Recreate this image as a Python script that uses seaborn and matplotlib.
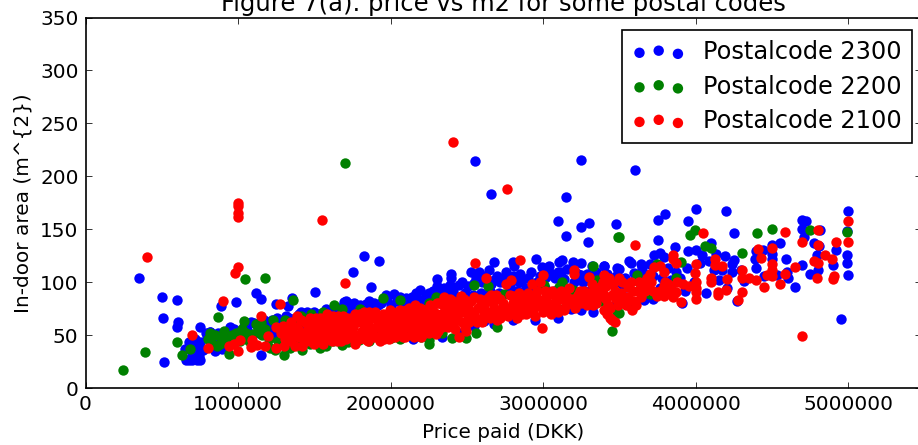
import matplotlib
matplotlib.use('Agg')
import pandas as pd
import matplotlib.pyplot as plt
import seaborn as sns

# (price in 1000 DKK, in-door area in m2)
postal_2300 = [
    (352, 104), (503, 86), (507, 66), (601, 83), (605, 62), (601, 58), (516, 25), (752, 58), (984, 81), (890, 77),
    (815, 53), (1119, 90), (1152, 84), (1753, 110), (1502, 91), (1351, 85), (1327, 77), (1250, 79), (1152, 31),
    (660, 26), (680, 26), (700, 26), (730, 26), (750, 26), (655, 37), (677, 43), (721, 33), (732, 37), (754, 43),
    (700, 30), (745, 30), (690, 40), (798, 47), (819, 53), (852, 35), (896, 37), (907, 53), (973, 56), (1038, 59),
    (1104, 61), (1169, 64), (1224, 64), (1333, 66), (1399, 70), (1453, 72), (1497, 72), (1574, 75), (1650, 70),
    (1705, 82), (1759, 80), (860, 45), (930, 50), (1000, 52), (1060, 55), (1130, 58), (1200, 58), (1270, 62),
    (1300, 60), (1370, 65), (1420, 66), (1480, 68), (1530, 70), (1600, 72), (1680, 74), (1730, 76), (1790, 76),
    (1240, 50), (1440, 55), (1550, 60), (1650, 62), (1694, 81), (1748, 79), (1836, 79), (1891, 80),
    (1829, 125), (1926, 120), (1875, 95), (1967, 88), (2022, 89), (2103, 85), (2192, 93), (2170, 90), (2251, 90),
    (2302, 103), (2302, 96), (2398, 108), (2398, 104), (2393, 97), (2452, 97), (2525, 110), (2579, 110), (2645, 111),
    (2678, 119), (2700, 106), (2754, 110), (2802, 119), (2809, 115), (2852, 108), (2951, 122), (2995, 114), (3038, 115),
    (3104, 119), (3126, 121), (3097, 110), (3196, 119), (3250, 118), (3202, 111), (3250, 107), (3322, 115), (3399, 115),
    (3486, 113), (3152, 144), (3250, 152), (3294, 138), (3100, 158), (3150, 180), (2551, 214), (2660, 183), (3250, 215),
    (3600, 206), (3300, 156), (3475, 155), (3751, 159), (3799, 164), (3952, 158), (4000, 169), (4199, 167), (4251, 146),
    (3751, 140), (3867, 133), (3727, 126), (3770, 128), (3792, 124), (3952, 129), (4000, 130), (4098, 137), (4044, 126),
    (4131, 127), (4192, 125), (4251, 121), (4240, 117), (4295, 111), (4393, 113), (4393, 129), (4444, 130), (4387, 122),
    (4498, 135), (4498, 127), (4498, 122), (4551, 137), (4595, 122), (4597, 110), (4606, 104), (4651, 95), (4695, 159),
    (4726, 158), (4700, 150), (4710, 143), (4813, 149), (4776, 137), (4809, 134), (4798, 126), (4802, 111), (4750, 108),
    (4695, 116), (4901, 116), (4920, 130), (5000, 167), (4990, 148), (4995, 126), (4995, 118), (5000, 107), (4951, 65),
    (4070, 90), (3770, 94), (3930, 92), (3908, 80), (4273, 82), (4317, 101), (4153, 102), (4208, 94), (4448, 106),
    (4536, 107), (3401, 115), (3497, 112), (3563, 120), (3574, 118), (3639, 117), (3650, 113), (3698, 117), (3661, 83),
    (3596, 109), (3541, 86), (3945, 113), (3869, 110), (3989, 100), (4120, 111), (4175, 111), (4240, 110), (4030, 118),
    (4090, 120), (3820, 113), (3700, 108), (2612, 63), (2546, 59), (2339, 48), (2852, 91), (3027, 88), (3180, 75),
    (3246, 74), (2546, 99), (2600, 100), (2660, 98), (2720, 100), (2780, 96), (2840, 100), (2900, 104), (2960, 100),
    (3020, 105), (3080, 104), (3140, 103), (3200, 100), (3260, 100), (3330, 104), (3380, 100), (3440, 100), (3520, 98),
    (1800, 78), (1860, 82), (1920, 78), (1980, 84), (2040, 82), (2090, 78), (2140, 86), (2200, 82), (2260, 84),
    (2320, 88), (2370, 90), (2430, 86), (2490, 90), (2540, 88), (2590, 90), (2650, 92), (2710, 90), (2770, 90),
    (2830, 92), (2890, 94), (2950, 92), (3010, 94), (3070, 92), (3130, 94), (3190, 90), (3300, 92), (3360, 92),
    # solid part of the band
    (720, 46), (770, 36), (790, 52), (835, 40), (870, 52), (915, 44), (950, 58), (1015, 48), (1075, 50), (1085, 62),
    (1140, 52), (1190, 62), (1215, 54), (1255, 66), (1285, 58), (1315, 68), (1350, 60), (1385, 64), (1415, 72), (1460, 64),
    (1510, 64), (1560, 68), (1620, 66), (1660, 76), (1710, 72), (1770, 72), (1810, 74), (1880, 74), (1940, 80), (2000, 78),
    (2060, 86), (2120, 80), (2180, 84), (2230, 88), (2280, 92), (2350, 94), (2410, 92), (2470, 100), (2510, 96), (2560, 104),
    (2620, 106), (2680, 102), (2740, 104), (2800, 106), (2860, 102), (2920, 110), (2980, 106), (3040, 110), (3120, 110),
    (3160, 112), (3230, 108), (3290, 108), (3350, 110), (3420, 108), (3480, 106), (3540, 104), (3600, 102), (3660, 108),
    (3720, 106), (3780, 104), (3840, 102), (3900, 104), (3720, 84), (3640, 90), (3560, 78), (3480, 80), (3420, 76),
    (3330, 72), (3100, 66), (2950, 64), (2800, 64), (2680, 60), (2450, 52), (2150, 46),
]

postal_2200 = [
    (245, 17), (387, 34), (601, 43), (632, 31), (682, 37), (868, 67), (1047, 103), (1176, 104), (940, 32), (1300, 31),
    (1360, 83), (1700, 213), (1627, 78), (800, 46), (830, 42), (860, 40), (890, 48), (920, 45), (950, 43), (985, 52),
    (1000, 48), (1040, 63), (1070, 44), (1100, 51), (1130, 55), (1160, 50), (1150, 62), (1210, 38), (1240, 36),
    (1270, 57), (1310, 64), (1340, 38), (1390, 60), (1420, 36), (1470, 42), (1500, 62), (1540, 38), (1580, 40),
    (1683, 75), (1799, 75), (1952, 85), (2061, 83), (2295, 86), (2251, 80), (2546, 97), (2640, 96), (2743, 89),
    (2951, 83), (3005, 97), (3104, 95), (3126, 100), (3196, 93), (3327, 115), (3355, 102), (3349, 80), (3491, 143),
    (3486, 71), (3449, 54), (2695, 58), (2498, 47), (2400, 47), (2251, 42), (2251, 45), (2273, 56), (2065, 46),
    (1930, 47), (1858, 44), (1792, 45), (1683, 41), (2000, 47), (3104, 75), (3497, 143), (3961, 145), (3996, 149),
    (4061, 134), (4103, 132), (4302, 128), (4400, 146), (4501, 150), (4750, 149), (4995, 147), (3497, 71), (3700, 89),
    (3399, 81), (3902, 119), (3749, 117), (3617, 107), (3628, 93), (3869, 104), (1620, 44), (1720, 43), (1900, 52),
    (2130, 50), (2200, 48), (2340, 52), (2560, 52), (815, 52), (850, 50), (880, 42), (910, 54), (960, 50), (1010, 44),
    (1025, 56), (1055, 52), (1085, 46), (1115, 60), (1180, 56), (1200, 46), (1230, 64), (1260, 44), (1290, 50), (1330, 58),
    (1375, 44), (1410, 68), (1440, 48), (1480, 70), (1520, 52), (1560, 72), (1600, 50), (1650, 46), (1750, 48),
]

postal_2100 = [
    (402, 124), (697, 50), (900, 82), (1001, 114), (977, 109), (1000, 175), (1000, 172), (1000, 165), (1000, 162),
    (1550, 159), (2411, 232), (2765, 188), (1700, 99), (1272, 79), (1150, 68), (802, 38), (940, 40), (973, 42),
    (1016, 45), (1001, 35), (1082, 39), (1093, 45), (1126, 41), (1180, 40), (1196, 49), (1250, 58), (1296, 59),
    (1246, 38), (1300, 40), (1279, 52), (1333, 52), (1388, 68), (1350, 44), (1380, 58), (1400, 48), (1420, 40),
    (1440, 62), (1450, 54), (1470, 44), (1490, 56), (1510, 66), (1520, 48), (1540, 60), (1560, 42), (1570, 54),
    (1590, 64), (1600, 48), (1620, 68), (1630, 56), (1650, 44), (1660, 62), (1680, 52), (1690, 68), (1710, 46),
    (1720, 58), (1740, 66), (1750, 52), (1770, 42), (1780, 62), (1800, 70), (1810, 54), (1830, 46), (1840, 64),
    (1860, 72), (1870, 56), (1890, 48), (1900, 66), (1920, 58), (1930, 44), (1950, 70), (1960, 52), (1980, 62),
    (1990, 46), (2010, 68), (2020, 56), (2040, 72), (2050, 50), (2070, 64), (2080, 48), (2100, 74), (2110, 58),
    (2130, 66), (2140, 52), (2160, 78), (2170, 60), (2190, 70), (2197, 48), (2210, 56), (2220, 74), (2240, 64),
    (2250, 52), (2270, 70), (2280, 58), (2295, 51), (2300, 66), (2320, 80), (2340, 58), (2350, 86), (2360, 66),
    (2380, 76), (2400, 60), (2410, 82), (2430, 70), (2448, 48), (2460, 87), (2470, 62), (2490, 76), (2498, 54),
    (2510, 68), (2530, 82), (2551, 118), (2550, 72), (2570, 62), (2590, 80), (2610, 70), (2623, 104), (2630, 84),
    (2650, 66), (2660, 88), (2680, 76), (2700, 64), (2720, 84), (2730, 72), (2760, 98), (2770, 68), (2790, 102),
    (2800, 80), (2810, 87), (2830, 66), (2852, 121), (2850, 76), (2870, 84), (2890, 70), (2900, 90), (2920, 80),
    (2930, 98), (2950, 68), (2970, 84), (2980, 100), (2995, 57), (3000, 107), (3000, 72), (3010, 92), (3030, 80),
    (3050, 70), (3070, 88), (3090, 76), (3110, 84), (3120, 92), (3140, 74), (3160, 86), (3180, 80), (3202, 111),
    (3202, 108), (3210, 76), (3230, 88), (3250, 80), (3270, 92), (3300, 105), (3300, 84), (3330, 78), (3340, 94),
    (3360, 86), (3399, 107), (3380, 96), (3410, 84), (3430, 104), (3440, 76), (3470, 92), (3480, 84), (3500, 104),
    (3390, 90), (3400, 74), (3420, 70), (3440, 66), (3451, 64), (3470, 62), (3530, 82), (3560, 95), (3590, 92),
    (3596, 82), (3600, 135), (3610, 78), (3630, 100), (3650, 96), (3680, 104), (3700, 108), (3730, 114), (3770, 115),
    (3790, 110), (3800, 100), (3770, 92), (3750, 87), (3790, 96), (3820, 98), (3851, 126), (3851, 122), (3869, 118),
    (3902, 81), (3855, 86), (3869, 91), (3841, 94), (3810, 91), (3791, 87), (3880, 100), (3920, 98), (3960, 96),
    (4000, 117), (3996, 109), (4000, 100), (4000, 94), (4000, 91), (4000, 84), (4050, 146), (4103, 104), (4103, 100),
    (4125, 122), (4125, 116), (4175, 115), (4146, 91), (4146, 88), (4197, 93), (4208, 103), (4275, 83), (4302, 91),
    (4302, 111), (4302, 104), (4350, 104), (4393, 102), (4411, 131), (4426, 123), (4448, 95), (4470, 107), (4501, 132),
    (4501, 117), (4501, 111), (4501, 106), (4551, 98), (4586, 147), (4586, 108), (4651, 114), (4700, 138), (4700, 49),
    (4776, 120), (4796, 104), (4802, 149), (4802, 135), (4802, 118), (4848, 126), (4896, 122), (4901, 103), (4907, 106),
    (4920, 138), (4997, 158), (4997, 138),
    # solid part of the band
    (1310, 46), (1325, 58), (1345, 62), (1360, 50), (1375, 40), (1395, 56), (1410, 64), (1430, 50), (1445, 44), (1460, 58),
    (1475, 66), (1485, 50), (1500, 42), (1505, 60), (1525, 54), (1535, 66), (1550, 46), (1565, 62), (1580, 50), (1585, 70),
    (1605, 58), (1615, 44), (1625, 62), (1640, 50), (1655, 68), (1665, 56), (1675, 44), (1695, 60), (1705, 52), (1715, 66),
    (1730, 48), (1735, 62), (1755, 58), (1765, 70), (1775, 50), (1790, 66), (1795, 46), (1815, 62), (1825, 72), (1835, 52),
    (1850, 60), (1855, 44), (1875, 66), (1880, 52), (1895, 72), (1905, 58), (1915, 48), (1935, 64), (1945, 54), (1955, 46),
    (1970, 68), (1975, 58), (1995, 74), (2000, 52), (2015, 62), (2030, 48), (2035, 66), (2055, 58), (2060, 74), (2075, 54),
    (2090, 68), (2095, 48), (2115, 62), (2120, 76), (2135, 56), (2150, 70), (2155, 48), (2175, 66), (2185, 54), (2195, 76),
    (2205, 62), (2225, 52), (2235, 70), (2245, 58), (2260, 78), (2265, 64), (2285, 72), (2290, 60), (2305, 80), (2310, 54),
    (2330, 70), (2335, 62), (2345, 78), (2370, 72), (2375, 58), (2390, 84), (2395, 66), (2415, 74), (2420, 56), (2440, 80),
    (2445, 64), (2465, 72), (2480, 84), (2485, 58), (2505, 78), (2515, 62), (2535, 72), (2545, 86), (2560, 66), (2575, 76),
    (2585, 84), (2600, 62), (2615, 78), (2640, 72), (2645, 86), (2665, 68), (2670, 80), (2690, 88), (2710, 74), (2715, 66),
    (2740, 80), (2745, 70), (2775, 76), (2780, 88), (2815, 72), (2825, 82), (2845, 90), (2860, 70), (2880, 78), (2905, 72),
    (2915, 86), (2940, 76), (2960, 92), (2985, 78), (3020, 86), (3040, 76), (3060, 92), (3080, 80), (3100, 72), (3130, 88),
    (3150, 78), (3170, 94), (3195, 84), (3220, 80), (3240, 92), (3260, 84), (3285, 78), (3310, 90), (3320, 98), (3350, 80),
    (3370, 92), (3395, 100), (3415, 96), (3425, 78), (3455, 88), (3460, 98), (3490, 78), (3510, 90), (3520, 100), (3545, 78),
    (3555, 86), (3575, 100), (3585, 74), (3620, 92), (3640, 86), (3660, 100), (3670, 92), (3690, 96), (3710, 100), (3720, 92),
]

postal_codes = ['Postalcode 2300', 'Postalcode 2200', 'Postalcode 2100']
series = [postal_2300, postal_2200, postal_2100]
colors = ['blue', 'green', 'red']
x_ticks = [0, 1000000, 2000000, 3000000, 4000000, 5000000]
y_ticks = [0, 50, 100, 150, 200, 250, 300, 350]

sns.set_theme(style='white')
plt.rcParams['font.family'] = ['DejaVu Sans']

fig = plt.figure(figsize=(9.18, 4.45), dpi=100)
ax = fig.add_axes([85.5 / 918, 1 - 388 / 445, (921 - 85.5) / 918, (388 - 17.5) / 445])

for name, points, color in zip(postal_codes, series, colors):
    df = pd.DataFrame(points, columns=['price', 'area'])
    df['price'] = df['price'] * 1000
    sns.scatterplot(data=df, x='price', y='area', color=color, s=56, linewidth=0, label=name, ax=ax, legend=False)

ax.set_xlim(0, 5478000)
ax.set_ylim(0, 350)
ax.set_xticks(x_ticks)
ax.set_yticks(y_ticks)
ax.ticklabel_format(style='plain', axis='x')
ax.tick_params(direction='in', length=4.5, width=0.7, top=True, right=True, bottom=True, left=True,
               labelsize=14.4, pad=5, color='#333333', labelcolor='black')
for spine in ax.spines.values():
    spine.set_color('black')
    spine.set_linewidth(1.2)

ax.set_xlabel('Price paid (DKK)', fontsize=14.4, color='black', labelpad=6.5)
ax.set_ylabel('In-door area (m^{2})', fontsize=14.4, color='black', labelpad=5.5)
ax.set_title('Figure 7(a). price vs m2 for some postal codes', fontsize=17.5, color='black', pad=5)

legend = ax.legend(scatterpoints=3, loc='upper right', bbox_to_anchor=(912 / 918, 1 - 30 / 445), bbox_transform=fig.transFigure,
                   fontsize=17.3, fancybox=False, framealpha=1, edgecolor='black', borderaxespad=0, labelcolor='black',
                   labelspacing=0.44, handletextpad=0.75, borderpad=0.42, handlelength=2.2)
legend.get_frame().set_linewidth(1.2)

fig.savefig('out.png', dpi=100)
